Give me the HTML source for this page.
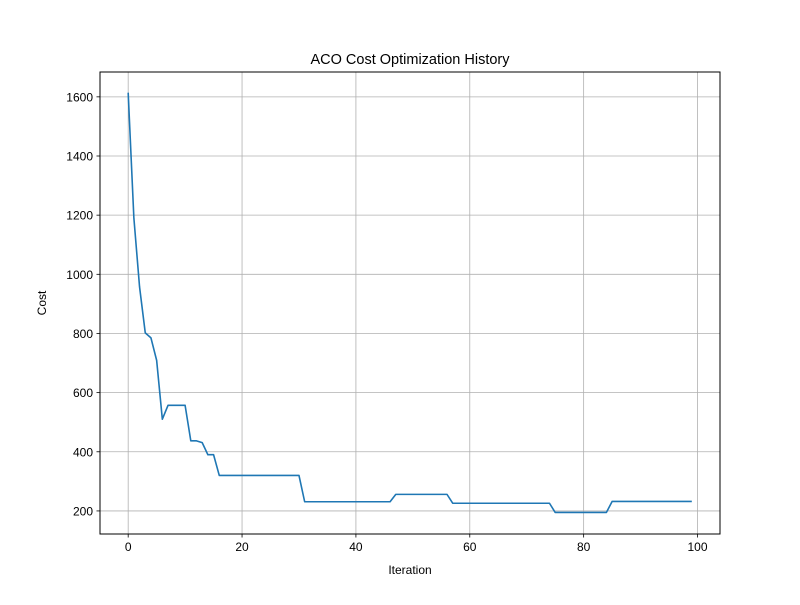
<!DOCTYPE html>
<html><head><meta charset="utf-8"><style>
body{margin:0;background:#fff;}
svg text{font-family:"Liberation Sans","DejaVu Sans",sans-serif;fill:#000;}
</style></head><body>
<svg id="chart" width="800" height="600" xmlns="http://www.w3.org/2000/svg">
<rect width="800" height="600" fill="#fff"/>
<g id="grid"></g>
<g id="series"></g>
<rect x="100" y="72" width="620" height="462" fill="none" stroke="#000" stroke-width="1"/>
<g id="ticks"></g>
<text x="410" y="64" text-anchor="middle" font-size="14.5">ACO Cost Optimization History</text>
<text x="410" y="574" text-anchor="middle" font-size="12">Iteration</text>
<text x="46" y="303" text-anchor="middle" font-size="12" transform="rotate(-90 46 303)">Cost</text>
</svg>
<script>
const costValues = [1614,1190,957,802,785,709,510,557,557,557,557,437,437,431,390,390,320,320,320,320,320,320,320,320,320,320,320,320,320,320,320,231,231,231,231,231,231,231,231,231,231,231,231,231,231,231,231,256,256,256,256,256,256,256,256,256,256,226,226,226,226,226,226,226,226,226,226,226,226,226,226,226,226,226,226,195,195,195,195,195,195,195,195,195,195,232,232,232,232,232,232,232,232,232,232,232,232,232,232,232];
const xTickValues = [0,20,40,60,80,100];
const yTickValues = [200,400,600,800,1000,1200,1400,1600];
const xMin=-4.95, xMax=103.95, yMin=122, yMax=1684;
const L=100,R=720,T=72,B=534;
const NS="http://www.w3.org/2000/svg";
function xs(v){return L+(v-xMin)/(xMax-xMin)*(R-L);}
function ys(v){return B-(v-yMin)/(yMax-yMin)*(B-T);}
function mk(tag,attrs,parent){const e=document.createElementNS(NS,tag);for(const k in attrs)e.setAttribute(k,attrs[k]);parent.appendChild(e);return e;}
const grid=document.getElementById('grid'),ticks=document.getElementById('ticks'),series=document.getElementById('series');
xTickValues.forEach(v=>{
  const x=xs(v);
  const g=mk('line',{x1:x,x2:x,y1:T,y2:B,stroke:'#b0b0b0','stroke-width':0.8},grid);
  
  
  const t=mk('line',{x1:x,x2:x,y1:B,y2:B+3.5,stroke:'#000','stroke-width':0.8},ticks);
  
  
  const l=mk('text',{x:x,y:B+17,'text-anchor':'middle','font-size':12},ticks);
  l.textContent=v;
  
  
});
yTickValues.forEach(v=>{
  const y=ys(v);
  const g=mk('line',{x1:L,x2:R,y1:y,y2:y,stroke:'#b0b0b0','stroke-width':0.8},grid);
  
  
  const t=mk('line',{x1:L-3.5,x2:L,y1:y,y2:y,stroke:'#000','stroke-width':0.8},ticks);
  
  
  const l=mk('text',{x:L-7,y:y+4.5,'text-anchor':'end','font-size':12},ticks);
  l.textContent=v;
  
  
});
const pts=costValues.map((v,i)=>xs(i).toFixed(2)+','+ys(v).toFixed(2)).join(' ');
const line=mk('polyline',{points:pts,fill:'none',stroke:'#1f77b4','stroke-width':1.6,'stroke-linejoin':'round'},series);


</script>
</body></html>
